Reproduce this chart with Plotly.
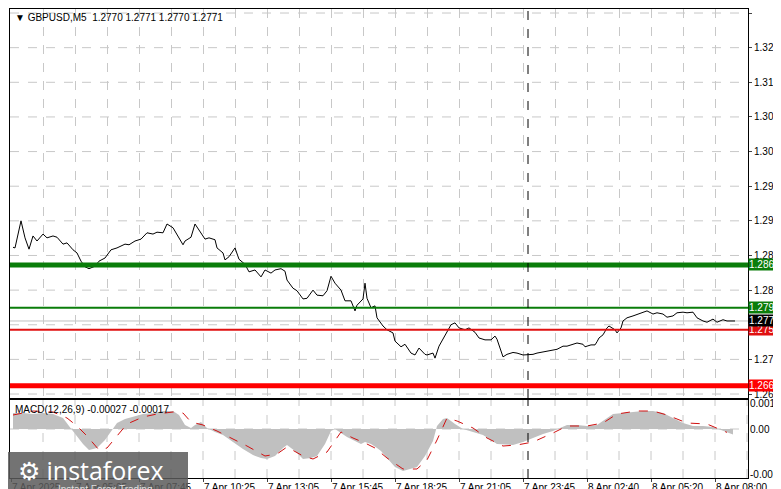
import plotly.graph_objects as go

# ---- data (bar index, 5-minute bars) ----
price_bars = [0,1,4,6,8,10,12,15,17,20,22,25,27,30,32,34,36,38,41,43,46,49,52,56,58,61,64,67,70,72,75,77,80,82,85,86,89,91,94,96,98,101,102,105,106,108,111,113,116,118,121,124,126,129,131,134,136,137,140,142,145,147,150,152,155,157,159,161,164,166,169,171,172,175,176,177,179,181,182,185,187,190,191,194,196,199,201,203,206,207,210,211,213,216,219,221,223,226,228,231,233,236,239,241,242,245,247,250,252,255,257,260,262,267,270,272,275,277,280,282,285,286,289,291,292,293,295,297,298,300,301,302,304,305,307,310,312,315,317,320,322,325,327,330,332,335,337,340,342,345,347,350,352,355,357,361]
price_vals = [1.2888,1.2887,1.2930,1.2903,1.2885,1.2906,1.2898,1.2909,1.2903,1.2906,1.2904,1.2893,1.2895,1.2884,1.2879,1.2866,1.2857,1.2854,1.2858,1.2866,1.2871,1.2884,1.2887,1.2893,1.2892,1.2898,1.2901,1.2911,1.2909,1.2912,1.2911,1.2925,1.2919,1.2909,1.2892,1.2898,1.2904,1.2925,1.2911,1.2901,1.2903,1.2900,1.2887,1.2879,1.2868,1.2873,1.2887,1.2869,1.2861,1.2849,1.2852,1.2841,1.2852,1.2847,1.2852,1.2854,1.2850,1.2836,1.2823,1.2819,1.2806,1.2807,1.2820,1.2812,1.2811,1.2819,1.2842,1.2831,1.2820,1.2803,1.2803,1.2787,1.2796,1.2806,1.2831,1.2807,1.2792,1.2795,1.2776,1.2763,1.2757,1.2752,1.2739,1.2730,1.2734,1.2720,1.2717,1.2728,1.2718,1.2717,1.2720,1.2712,1.2731,1.2749,1.2765,1.2768,1.2760,1.2757,1.2760,1.2753,1.2744,1.2741,1.2741,1.2747,1.2742,1.2714,1.2718,1.2721,1.2720,1.2717,1.2717,1.2718,1.2720,1.2723,1.2726,1.2726,1.2731,1.2731,1.2734,1.2736,1.2734,1.2730,1.2733,1.2733,1.2738,1.2744,1.2749,1.2760,1.2763,1.2758,1.2757,1.2752,1.2760,1.2771,1.2776,1.2779,1.2781,1.2784,1.2787,1.2782,1.2784,1.2782,1.2777,1.2779,1.2784,1.2785,1.2784,1.2785,1.2776,1.2771,1.2769,1.2774,1.2769,1.2773,1.2771,1.2771]

macd_bars = [0,5,10,15,20,25,28,31,35,38,42,46,49,52,56,60,65,70,75,80,83,86,89,91,94,97,101,105,110,115,120,124,127,131,135,137,141,145,149,152,156,159,161,164,167,171,174,176,179,182,184,187,191,195,198,202,206,210,212,215,217,221,225,230,235,242,250,255,260,265,270,275,277,282,287,292,297,300,305,310,315,320,325,330,335,340,345,350,355,360]
macd_vals = [0.0008,0.0008,0.00075,0.0008,0.00075,0.00055,0.00015,-0.00025,-0.00075,-0.00105,-0.00095,-0.00055,-0.00015,0.0003,0.0005,0.0006,0.00075,0.0008,0.0009,0.0009,0.0007,0.0002,0.00005,0.0002,0.00035,0.00005,-0.00015,-0.0003,-0.00065,-0.001,-0.0013,-0.00145,-0.0015,-0.00135,-0.00095,-0.0008,-0.0011,-0.0015,-0.00145,-0.00135,-0.00075,-0.0001,0.0,-0.0002,-0.0004,-0.0006,-0.00075,-0.00065,-0.00075,-0.00095,-0.0011,-0.00145,-0.0019,-0.0021,-0.002,-0.0019,-0.00135,-0.0006,0.00015,0.0005,0.00055,0.00025,0.0,-0.00015,-0.0003,-0.00075,-0.0008,-0.00065,-0.00045,-0.00025,-0.0001,0.0001,0.0002,0.0002,0.00015,0.0002,0.00055,0.00075,0.0008,0.00085,0.0009,0.0009,0.0008,0.00055,0.0003,0.00015,0.00015,0.0001,-0.0001,-0.00027]

signal_bars = [0,10,20,27,32,37,43,47,52,57,65,72,80,85,89,95,102,110,117,126,132,137,145,150,157,164,170,176,181,187,195,202,207,212,217,222,230,237,245,252,260,270,277,287,295,302,312,320,327,337,347,357]
signal_vals = [0.0007,0.0009,0.00085,0.00055,0.00015,-0.00035,-0.00105,-0.00095,-0.00035,0.00025,0.0006,0.00075,0.00085,0.0008,0.00035,0.0002,-0.0001,-0.0005,-0.00085,-0.00135,-0.00125,-0.0009,-0.00135,-0.0015,-0.00115,-0.00015,-0.00045,-0.0007,-0.00095,-0.00145,-0.002,-0.002,-0.00155,-0.00055,0.00055,0.0004,0.00005,-0.00045,-0.00085,-0.0008,-0.00065,-0.0002,0.00015,0.00015,0.0003,0.00075,0.0009,0.0009,0.0007,0.0003,0.00025,-0.00017]

price_ticks = [1.3260,1.3205,1.3150,1.3095,1.3040,1.2985,1.2930,1.2875,1.2820,1.2710,1.2655]
grid_prices = [1.3260,1.3205,1.3150,1.3095,1.3040,1.2985,1.2930,1.2875,1.2820,1.2765,1.2710,1.2655]
time_tick_bars = [-1,31,63,95,127,159,191,223,255,287,319,351]
time_tick_labels = ["7 Apr 2025","7 Apr 05:05","7 Apr 07:45","7 Apr 10:25","7 Apr 13:05","7 Apr 15:45",
                    "7 Apr 18:25","7 Apr 21:05","7 Apr 23:45","8 Apr 02:40","8 Apr 05:20","8 Apr 08:00"]
levels = [(1.2860,"#0a7d0a",5),(1.2792,"#0a7d0a",2),(1.2757,"#e01010",2),(1.2668,"#ff0000",5)]
current_price = 1.2771
cursor_bar = 257.5

W, H = 781, 489
ML, MR, MT, MB = 2, 41, 1, 19
XR = [-1.5, 367.5]
font = "Liberation Sans"
FS = 10

fig = go.Figure()
fig.add_trace(go.Scatter(x=macd_bars, y=macd_vals, mode="lines", line=dict(color="rgba(0,0,0,0)", width=0),
                         fill="tozeroy", fillcolor="#c0c0c0", xaxis="x2", yaxis="y2", hoverinfo="skip"))
fig.add_trace(go.Scatter(x=signal_bars, y=signal_vals, mode="lines", line=dict(color="#d01010", width=1, dash="dash"),
                         xaxis="x2", yaxis="y2"))
fig.add_trace(go.Scatter(x=price_bars, y=price_vals, mode="lines", line=dict(color="black", width=1), xaxis="x", yaxis="y"))

shapes = []
for p in grid_prices:
    shapes.append(dict(type="line", xref="x", yref="y", x0=XR[0], x1=XR[1], y0=p, y1=p,
                       line=dict(color="#c8c8c8", width=1, dash="dash"), layer="below"))
shapes.append(dict(type="line", xref="x", yref="y", x0=XR[0], x1=XR[1], y0=current_price, y1=current_price,
                   line=dict(color="#c0c0c0", width=1), layer="below"))
for p, c, w in levels:
    shapes.append(dict(type="line", xref="x", yref="y", x0=XR[0], x1=XR[1], y0=p, y1=p, line=dict(color=c, width=w)))
shapes.append(dict(type="line", xref="x2", yref="y2", x0=XR[0], x1=XR[1], y0=0, y1=0,
                   line=dict(color="#c8c8c8", width=1, dash="dash"), layer="below"))
for yr, xr in (("y domain", "x"), ("y2 domain", "x2")):
    shapes.append(dict(type="line", xref=xr, yref=yr, x0=cursor_bar, x1=cursor_bar, y0=0, y1=1,
                       line=dict(color="black", width=1, dash="dash")))

ann = []
ann.append(dict(xref="paper", yref="paper", x=0.004, y=0.997, xanchor="left", yanchor="top", showarrow=False,
                text="▼ GBPUSD,M5  1.2770 1.2771 1.2770 1.2771", font=dict(family=font, size=FS, color="black")))
ann.append(dict(xref="paper", yref="paper", x=0.004, y=0.163, xanchor="left", yanchor="top", showarrow=False,
                text="MACD(12,26,9) -0.00027 -0.00017", font=dict(family=font, size=FS, color="black")))
for p, c, w in levels:
    ann.append(dict(xref="paper", yref="y", x=1.0, y=p, xanchor="left", yanchor="middle", showarrow=False,
                    text=f"{p:.4f}", bgcolor=c, font=dict(family=font, size=FS, color="white"), borderpad=0))
ann.append(dict(xref="paper", yref="y", x=1.0, y=current_price, xanchor="left", yanchor="middle", showarrow=False,
                text=f"{current_price:.4f}", bgcolor="black", font=dict(family=font, size=FS, color="white"), borderpad=0))
for v, t in ((0.0013, "0.0013"), (0.0, "0.00"), (-0.0023, "-0.00219")):
    ann.append(dict(xref="paper", yref="y2", x=1.0, y=v, xanchor="left", yanchor="middle", showarrow=False,
                    text=t, font=dict(family=font, size=FS, color="black")))

def px(xp): return (xp - ML) / (W - ML - MR)
def py(yp): return (H - MB - yp) / (H - MT - MB)
shapes.append(dict(type="rect", xref="paper", yref="paper", x0=px(0), x1=px(180), y0=py(444), y1=py(489),
                   fillcolor="rgba(90,90,90,0.85)", line=dict(width=0)))
ann.append(dict(xref="paper", yref="paper", x=px(8), y=py(462), xanchor="left", yanchor="middle", showarrow=False,
                text="⚙ instaforex", font=dict(family="Open Sans", size=25, color="white")))
ann.append(dict(xref="paper", yref="paper", x=px(48), y=py(481), xanchor="left", yanchor="middle", showarrow=False,
                text="Instant Forex Trading", font=dict(family=font, size=FS, color="#e0e0e0")))

grid_x = list(range(15, 368, 16))
fig.update_layout(
    width=W, height=H, margin=dict(l=ML, r=MR, t=MT, b=MB, autoexpand=False),
    plot_bgcolor="white", paper_bgcolor="white", showlegend=False,
    shapes=shapes, annotations=ann,
    xaxis=dict(domain=[0, 1], range=XR, anchor="y", showticklabels=False, tickvals=grid_x, automargin=False,
               showgrid=True, gridcolor="#c8c8c8", griddash="dash", zeroline=False,
               showline=True, mirror=True, linecolor="black", linewidth=1, ticks=""),
    yaxis=dict(domain=[0.1706, 1], range=[1.26487, 1.32664], side="right", tickvals=price_ticks, automargin=False,
               tickformat=".4f", showgrid=False, zeroline=False, showline=True, mirror=True,
               linecolor="black", linewidth=1, ticks="outside", ticklen=3,
               tickfont=dict(family=font, size=FS, color="black")),
    xaxis2=dict(domain=[0, 1], range=XR, anchor="y2", matches="x", tickvals=time_tick_bars, ticktext=time_tick_labels,
                ticklabelposition="outside right", ticks="outside", ticklen=3, tickangle=0, automargin=False,
                showgrid=False, zeroline=False, showline=True, mirror=True, linecolor="black", linewidth=1,
                tickfont=dict(family=font, size=FS, color="black")),
    yaxis2=dict(domain=[0, 0.1663], range=[-0.00245, 0.00145], side="right", showticklabels=False, automargin=False,
                showgrid=False, zeroline=False, showline=True, mirror=True, linecolor="black", linewidth=1),
)
for gx in grid_x:
    fig.add_shape(type="line", xref="x2", yref="y2 domain", x0=gx, x1=gx, y0=0, y1=1,
                  line=dict(color="#c8c8c8", width=1, dash="dash"), layer="below")
fig.write_html("out.html")
